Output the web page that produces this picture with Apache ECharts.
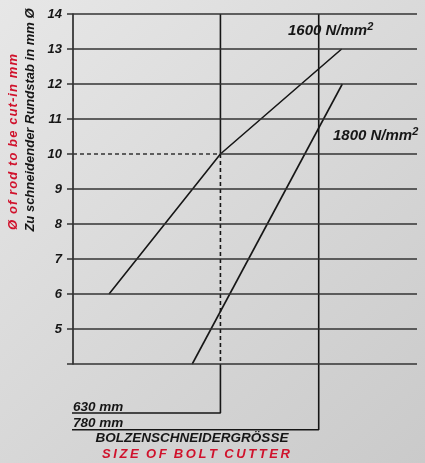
<!DOCTYPE html>
<html>
<head>
<meta charset="utf-8">
<script src="https://cdn.jsdelivr.net/npm/echarts@6/dist/echarts.min.js"></script>
<style>
html, body { margin: 0; padding: 0; }
#chart { width: 425px; height: 463px; }
</style>
</head>
<body>
<div id="chart"></div>
<script>
// y axis ticks (rod diameter, mm)
var yTicks = [4, 5, 6, 7, 8, 9, 10, 11, 12, 13, 14]
// x axis: bolt cutter size in mm
var xMin = 405
var xMax = 930
var cutterSizes = [630, 780]
var cutterLabels = ['630 mm', '780 mm']
// lines for the two material strengths
var line1600 = [[460, 6], [630, 10], [815, 13]]
var line1800 = [[587, 4], [816, 12]]
// levels (in y units) of the bracket lines under the plot
var bracketLevels = [2.6, 2.12]
var bracketLeft = 393
var refDiameter = 10

var font = 'Liberation Sans, Arial, sans-serif'
var ink = '#161616'
var red = '#d0122c'

function spaced(str, gap) {
    return str.split('').join(gap)
}

var chart = echarts.init(document.getElementById('chart'))

var gridLines = []
yTicks.forEach(function(v) {
    if (v === refDiameter) {
        gridLines.push([{ coord: [xMin, v], lineStyle: { type: [4, 3] } }, { coord: [cutterSizes[0], v] }])
        gridLines.push([{ coord: [cutterSizes[0], v] }, { coord: [xMax, v] }])
    } else {
        gridLines.push([{ coord: [xMin, v] }, { coord: [xMax, v] }])
    }
})

function plain(name, data, extra) {
    var s = {
        name: name,
        type: 'line',
        data: data,
        symbol: 'none',
        clip: false,
        silent: true,
        animation: false,
        lineStyle: { color: ink, width: 1.6 }
    }
    if (extra) {
        s.lineStyle = Object.assign(s.lineStyle, extra)
    }
    return s
}

var option = {
    backgroundColor: new echarts.graphic.LinearGradient(0, 0, 1, 1, [
        { offset: 0, color: '#e7e7e7' },
        { offset: 1, color: '#cacaca' }
    ]),
    animation: false,
    grid: { left: 73, top: 14, width: 344, height: 350 },
    xAxis: {
        type: 'value',
        min: xMin,
        max: xMax,
        show: false
    },
    yAxis: {
        type: 'value',
        min: 4,
        max: 14,
        interval: 1,
        axisLine: { show: true, lineStyle: { color: ink, width: 1.5 } },
        axisTick: { show: true, inside: false, length: 6, lineStyle: { color: '#333', width: 1.5 } },
        splitLine: { show: false },
        axisLabel: {
            margin: 11,
            color: ink,
            fontFamily: font,
            fontSize: 13,
            fontStyle: 'italic',
            fontWeight: 'bold',
            formatter: function(v) { return v === 4 ? '' : String(v) }
        }
    },
    series: [
        {
            type: 'line',
            data: [],
            silent: true,
            markLine: {
                silent: true,
                symbol: ['none', 'none'],
                label: { show: false },
                lineStyle: { color: '#333', width: 1.5, type: 'solid' },
                data: gridLines
            }
        },
        plain('1600', line1600),
        plain('1800', line1800),
        // 630 mm: solid top part, dashed guide, solid bracket
        plain('630a', [[cutterSizes[0], 14], [cutterSizes[0], refDiameter]]),
        plain('630b', [[cutterSizes[0], refDiameter], [cutterSizes[0], 4]], { type: [4, 3] }),
        plain('630c', [[cutterSizes[0], 4], [cutterSizes[0], bracketLevels[0]], [bracketLeft, bracketLevels[0]]]),
        // 780 mm
        plain('780', [[cutterSizes[1], 14], [cutterSizes[1], bracketLevels[1]], [bracketLeft, bracketLevels[1]]])
    ],
    graphic: [
        {
            type: 'text', x: 13, y: 142, rotation: Math.PI / 2,
            style: {
                text: spaced('Ø of rod to be cut-in mm', '\u200A'), fill: red,
                font: 'italic bold 13px ' + font, align: 'center', verticalAlign: 'middle'
            }
        },
        {
            type: 'text', x: 30, y: 120, rotation: Math.PI / 2,
            style: {
                text: 'Zu schneidender Rundstab in mm Ø', fill: ink,
                font: 'italic bold 13px ' + font, align: 'center', verticalAlign: 'middle'
            }
        },
        {
            type: 'text', x: 73, y: 407,
            style: { text: cutterLabels[0], fill: ink, font: 'italic bold 13.5px ' + font, verticalAlign: 'middle' }
        },
        {
            type: 'text', x: 73, y: 423,
            style: { text: cutterLabels[1], fill: ink, font: 'italic bold 13.5px ' + font, verticalAlign: 'middle' }
        },
        {
            type: 'text', x: 192, y: 438,
            style: {
                text: 'BOLZENSCHNEIDERGRÖSSE', fill: ink,
                font: 'italic bold 13.5px ' + font, align: 'center', verticalAlign: 'middle'
            }
        },
        {
            type: 'text', x: 196, y: 454,
            style: {
                text: 'S\u2009I\u2009Z\u2009E  O\u2009F  B\u2009O\u2009L\u2009T  C\u2009U\u2009T\u2009T\u2009E\u2009R', fill: red,
                font: 'italic bold 13px ' + font, align: 'center', verticalAlign: 'middle'
            }
        },
        {
            type: 'text', x: 288, y: 31,
            style: {
                text: '{a|1600 N/mm}{s|2}', verticalAlign: 'middle',
                rich: {
                    a: { fill: ink, font: 'italic bold 15px ' + font },
                    s: { fill: ink, font: 'italic bold 11px ' + font, padding: [0, 0, 8, 0] }
                }
            }
        },
        {
            type: 'text', x: 333, y: 136,
            style: {
                text: '{a|1800 N/mm}{s|2}', verticalAlign: 'middle',
                rich: {
                    a: { fill: ink, font: 'italic bold 15px ' + font },
                    s: { fill: ink, font: 'italic bold 11px ' + font, padding: [0, 0, 8, 0] }
                }
            }
        }
    ]
}

chart.setOption(option)
</script>
</body>
</html>
